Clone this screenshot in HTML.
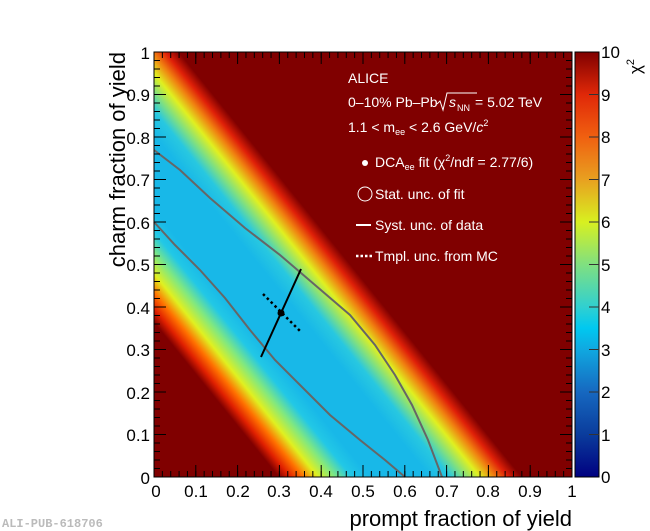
<!DOCTYPE html>
<html><head><meta charset="utf-8"><style>
html,body{margin:0;padding:0;background:#fff;}
svg{display:block;font-family:"Liberation Sans",sans-serif;}
</style></head><body>
<svg width="650" height="531" viewBox="0 0 650 531" xmlns="http://www.w3.org/2000/svg">
<defs>
<linearGradient id="band" gradientUnits="userSpaceOnUse" x1="154" y1="477" x2="424" y2="259">
<stop offset="0.280" stop-color="#800000"/>
<stop offset="0.305" stop-color="#e02000"/>
<stop offset="0.334" stop-color="#ff7000"/>
<stop offset="0.368" stop-color="#e0f020"/>
<stop offset="0.406" stop-color="#80e880"/>
<stop offset="0.444" stop-color="#22c8e6"/>
<stop offset="0.484" stop-color="#18b8e8"/>
<stop offset="0.619" stop-color="#18b8e8"/>
<stop offset="0.664" stop-color="#28c8e0"/>
<stop offset="0.697" stop-color="#80e080"/>
<stop offset="0.731" stop-color="#e0f020"/>
<stop offset="0.765" stop-color="#f08010"/>
<stop offset="0.794" stop-color="#e02008"/>
<stop offset="0.825" stop-color="#800000"/>
</linearGradient>
<linearGradient id="cbar" x1="0" y1="1" x2="0" y2="0">
<stop offset="0" stop-color="#000080"/>
<stop offset="0.1" stop-color="#0a3c9c"/>
<stop offset="0.2" stop-color="#1668c0"/>
<stop offset="0.3" stop-color="#10a8e0"/>
<stop offset="0.35" stop-color="#00c8f0"/>
<stop offset="0.4" stop-color="#30d0d0"/>
<stop offset="0.5" stop-color="#80e080"/>
<stop offset="0.6" stop-color="#d8f020"/>
<stop offset="0.7" stop-color="#e8a020"/>
<stop offset="0.8" stop-color="#f06010"/>
<stop offset="0.9" stop-color="#e02808"/>
<stop offset="1" stop-color="#800000"/>
</linearGradient>
</defs>
<rect x="154" y="52" width="418" height="425" fill="url(#band)"/>
<!-- contours -->
<path d="M154,222 L175,245 L200,270 L225,298 L250,330 L275,360 L300,385 L330,415 L360,440 L385,460 L405,477" fill="none" stroke="#666" stroke-width="2"/>
<path d="M154,150 L180,170 L210,198 L245,228 L280,255 L315,285 L350,315 L375,345 L395,375 L412,405 L428,440 L442,477" fill="none" stroke="#666" stroke-width="2"/>
<!-- fit point -->
<line x1="261" y1="357" x2="301" y2="269" stroke="#000" stroke-width="2"/>
<line x1="263" y1="294" x2="300" y2="331" stroke="#000" stroke-width="2.5" stroke-dasharray="2.5,3"/>
<circle cx="281" cy="313" r="3.5" fill="#000"/>
<!-- frame -->
<rect x="154" y="52" width="418" height="425" fill="none" stroke="#000" stroke-width="1"/>
<g stroke="#000" stroke-width="1">
<path d="M154,477v-12M195.8,477v-12M237.6,477v-12M279.4,477v-12M321.2,477v-12M363,477v-12M404.8,477v-12M446.6,477v-12M488.4,477v-12M530.2,477v-12M572,477v-12"/>
<path d="M154,52v12M195.8,52v12M237.6,52v12M279.4,52v12M321.2,52v12M363,52v12M404.8,52v12M446.6,52v12M488.4,52v12M530.2,52v12M572,52v12"/>
<path d="M154,477h12M154,434.5h12M154,392h12M154,349.5h12M154,307h12M154,264.5h12M154,222h12M154,179.5h12M154,137h12M154,94.5h12M154,52h12"/>
<path d="M572,477h-12M572,434.5h-12M572,392h-12M572,349.5h-12M572,307h-12M572,264.5h-12M572,222h-12M572,179.5h-12M572,137h-12M572,94.5h-12M572,52h-12"/>
</g>
<!-- minor ticks -->
<g stroke="#000" stroke-width="6" fill="none">
<line x1="153.5" y1="474" x2="572.5" y2="474" stroke-dasharray="1,7.36"/>
<line x1="153.5" y1="55" x2="572.5" y2="55" stroke-dasharray="1,7.36"/>
<line x1="157" y1="477.5" x2="157" y2="51.5" stroke-dasharray="1,7.5"/>
<line x1="569" y1="477.5" x2="569" y2="51.5" stroke-dasharray="1,7.5"/>
</g>
<!-- colorbar -->
<rect x="575" y="52" width="24" height="425" fill="url(#cbar)" stroke="#000" stroke-width="1"/>
<path d="M599,434.5h-10M599,392h-10M599,349.5h-10M599,307h-10M599,264.5h-10M599,222h-10M599,179.5h-10M599,137h-10M599,94.5h-10" stroke="#333" stroke-width="1"/>
<g font-size="17" fill="#000">
<text x="601" y="483">0</text><text x="601" y="441">1</text><text x="601" y="398">2</text><text x="601" y="356">3</text><text x="601" y="313">4</text><text x="601" y="271">5</text><text x="601" y="228">6</text><text x="601" y="186">7</text><text x="601" y="143">8</text><text x="601" y="101">9</text><text x="601" y="58">10</text>
</g>
<text transform="translate(641,74) rotate(-90)" font-size="17" fill="#000">χ<tspan font-size="11" dy="-7">2</tspan></text>
<!-- axis labels -->
<g font-size="17" fill="#000" text-anchor="middle">
<text x="156" y="497">0</text><text x="196" y="497">0.1</text><text x="238" y="497">0.2</text><text x="279" y="497">0.3</text><text x="321" y="497">0.4</text><text x="363" y="497">0.5</text><text x="405" y="497">0.6</text><text x="447" y="497">0.7</text><text x="488" y="497">0.8</text><text x="530" y="497">0.9</text><text x="572" y="497">1</text>
</g>
<g font-size="17" fill="#000" text-anchor="end">
<text x="150" y="484">0</text><text x="150" y="441">0.1</text><text x="150" y="399">0.2</text><text x="150" y="356">0.3</text><text x="150" y="314">0.4</text><text x="150" y="271">0.5</text><text x="150" y="229">0.6</text><text x="150" y="186">0.7</text><text x="150" y="144">0.8</text><text x="150" y="101">0.9</text><text x="150" y="59">1</text>
</g>
<text x="572" y="526" font-size="22" text-anchor="end" fill="#000">prompt fraction of yield</text>
<text transform="translate(125,52) rotate(-90)" font-size="22" text-anchor="end" fill="#000">charm fraction of yield</text>
<!-- legend -->
<g fill="#fff" font-size="14">
<text x="348" y="83">ALICE</text>
<text x="348" y="107">0–10% Pb–Pb</text>
<path d="M437,104 l3,-3 l3,9 l4,-17 h30" fill="none" stroke="#fff" stroke-width="1"/>
<text x="449" y="107" font-style="italic">s</text><text x="457" y="111" font-size="9">NN</text>
<text x="475" y="107">= 5.02 TeV</text>
<text x="348" y="132">1.1 &lt; m<tspan font-size="9" dy="3">ee</tspan><tspan dy="-3"> &lt; 2.6 GeV/</tspan><tspan font-style="italic">c</tspan><tspan font-size="9" dy="-6">2</tspan></text>
<circle cx="365" cy="163" r="3"/>
<text x="375" y="167">DCA<tspan font-size="9" dy="3">ee</tspan><tspan dy="-3"> fit (χ</tspan><tspan font-size="9" dy="-6">2</tspan><tspan dy="6">/ndf =  2.77/6)</tspan></text>
<circle cx="365" cy="194" r="7" fill="none" stroke="#fff" stroke-width="1"/>
<text x="375" y="199">Stat. unc. of fit</text>
<line x1="356" y1="225" x2="371" y2="225" stroke="#fff" stroke-width="2"/>
<text x="375" y="230">Syst. unc. of data</text>
<line x1="356" y1="256" x2="372" y2="256" stroke="#fff" stroke-width="2.5" stroke-dasharray="2.5,2"/>
<text x="375" y="261">Tmpl. unc. from MC</text>
</g>
<text x="2" y="527" font-family="Liberation Mono, monospace" font-size="12" font-weight="bold" fill="#bbb">ALI-PUB-618706</text>
</svg>
</body></html>
